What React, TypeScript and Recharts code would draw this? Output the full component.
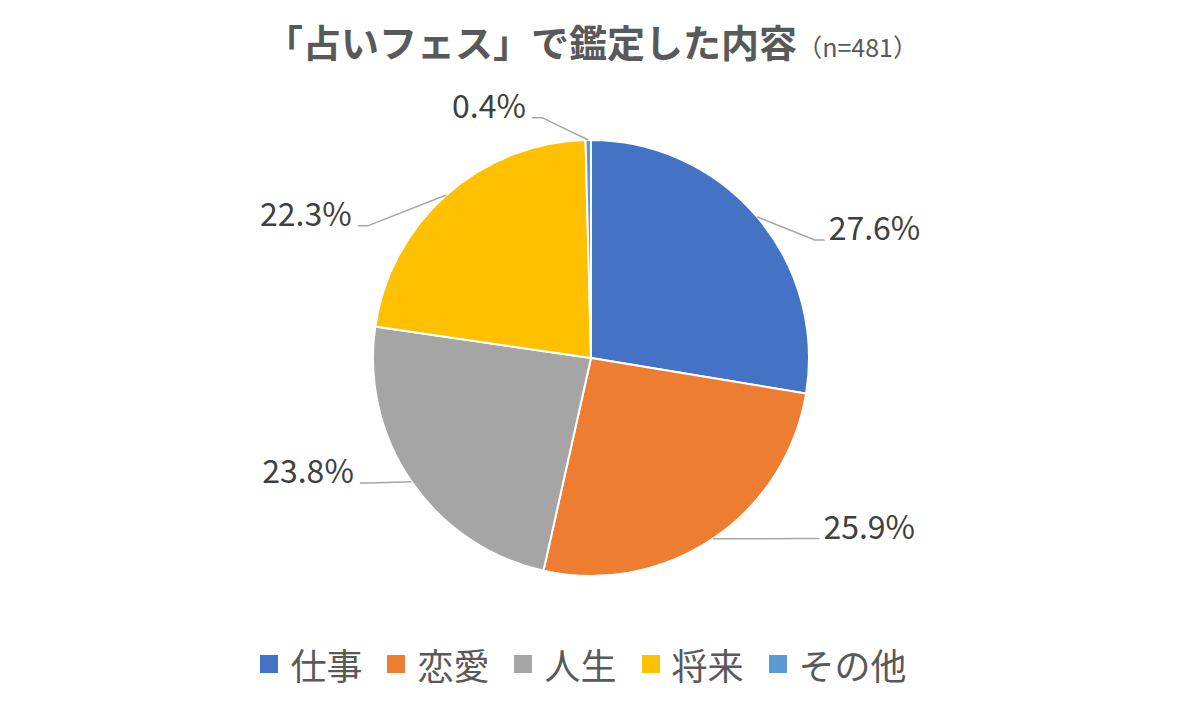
import React from "react";
import { PieChart, Pie, Cell, Legend } from "recharts";

const CATEGORIES = ["仕事", "恋愛", "人生", "将来", "その他"];
const SHARES = [27.6, 25.9, 23.8, 22.3, 0.4];
const COLORS = ["#4472C4", "#ED7D31", "#A5A5A5", "#FFC000", "#5B9BD5"];
const TITLE = "「占いフェス」で鑑定した内容";
const SAMPLE = "（n=481）";

// where each leader line bends: angle nudge (deg) and radius factor, like Excel's best-fit labels
const LABEL_SHIFT = [-12.5, 16.4, -5.1, 17.8, 10.8];
const LABEL_RADIUS = [1.16, 1.3, 1.165, 1.19, 1.125];

const FONT = '"Noto Sans CJK JP", "Noto Sans", sans-serif';
const RAD = Math.PI / 180;

const data = CATEGORIES.map((name, i) => ({ name, value: SHARES[i] }));

function polar(cx: number, cy: number, r: number, angle: number) {
  return {
    x: cx + r * Math.cos(-angle * RAD),
    y: cy + r * Math.sin(-angle * RAD),
  };
}

function renderLabel(props: any) {
  const { cx, cy, midAngle, outerRadius, index } = props;
  const start = polar(cx, cy, outerRadius, midAngle);
  const elbow = polar(
    cx,
    cy,
    outerRadius * LABEL_RADIUS[index],
    midAngle + LABEL_SHIFT[index]
  );
  const left = elbow.x < cx;
  const endX = elbow.x + (left ? -10 : 10);
  return (
    <g key={`label-${index}`}>
      <polyline
        points={`${start.x},${start.y} ${elbow.x},${elbow.y} ${endX},${elbow.y}`}
        fill="none"
        stroke="#A6A6A6"
        strokeWidth={1.5}
      />
      <text
        x={endX + (left ? -6 : 4)}
        y={elbow.y}
        textAnchor={left ? "end" : "start"}
        fill="#404040"
        fontSize={32}
        fontFamily={FONT}
      >
        {SHARES[index].toFixed(1)}%
      </text>
    </g>
  );
}

function LegendContent() {
  return (
    <div
      style={{
        display: "flex",
        justifyContent: "center",
        alignItems: "center",
        paddingRight: 16,
        fontFamily: FONT,
        fontSize: 36,
        lineHeight: "36px",
        color: "#595959",
      }}
    >
      {CATEGORIES.map((c, i) => (
        <div
          key={c}
          style={{ display: "flex", alignItems: "center", marginLeft: i ? 25 : 0 }}
        >
          <span
            style={{
              display: "inline-block",
              width: 18,
              height: 18,
              background: COLORS[i],
              marginRight: 12,
            }}
          />
          <span>{c}</span>
        </div>
      ))}
    </div>
  );
}

export default function App() {
  return (
    <div
      style={{
        position: "absolute",
        left: 0,
        top: 0,
        width: 1183,
        height: 710,
        background: "#fff",
      }}
    >
      <div
        style={{
          position: "absolute",
          left: 0,
          top: 22,
          width: 1183,
          textAlign: "center",
          fontFamily: FONT,
          color: "#595959",
          fontSize: 38,
          lineHeight: "38px",
          fontWeight: 700,
          zIndex: 1,
        }}
      >
        {TITLE}
        <span style={{ fontSize: 25, fontWeight: 400 }}>{SAMPLE}</span>
      </div>
      <PieChart width={1183} height={710} margin={{ top: 0, right: 0, bottom: 0, left: 0 }}>
        <Pie
          data={data}
          dataKey="value"
          nameKey="name"
          cx={591}
          cy={358}
          outerRadius={218}
          startAngle={90}
          endAngle={-270}
          stroke="#fff"
          strokeWidth={2}
          label={renderLabel}
          labelLine={false}
          isAnimationActive={false}
        >
          {data.map((d, i) => (
            <Cell key={d.name} fill={COLORS[i]} />
          ))}
        </Pie>
        <Legend
          verticalAlign="bottom"
          content={LegendContent}
          wrapperStyle={{ left: 0, top: 646, bottom: "auto", width: 1183 }}
        />
      </PieChart>
    </div>
  );
}
